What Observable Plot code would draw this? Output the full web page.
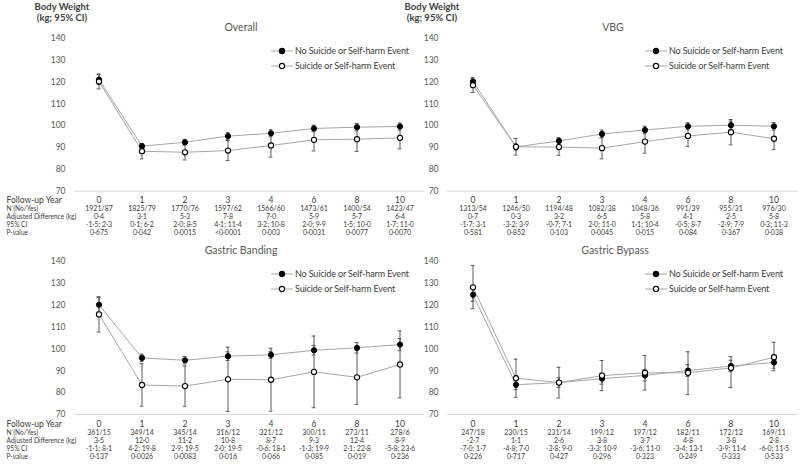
<!DOCTYPE html>
<html><head><meta charset="utf-8">
<script src="https://cdn.jsdelivr.net/npm/d3@7"></script>
<script src="https://cdn.jsdelivr.net/npm/@observablehq/plot@0.6"></script>
<style>
html,body{margin:0;padding:0;background:#fff;}
#root{position:relative;width:800px;height:469px;overflow:hidden;font-family:Lato,"Open Sans",sans-serif;}
.abs{position:absolute;white-space:nowrap;}
.title{font-size:10.5px;color:#595959;transform:translateX(-50%);line-height:12px;}
.ytitle{font-size:9.5px;font-weight:bold;color:#404040;text-align:center;transform:translateX(-50%);line-height:11px;}
.leg{font-size:9px;letter-spacing:-0.15px;color:#404040;line-height:12px;}
</style></head>
<body><div id="root"></div>
<script>
const years = ["0","1","2","3","4","6","8","10"];
const seriesNames = ["No Suicide or Self-harm Event","Suicide or Self-harm Event"];
const rowLabels = ["Follow-up Year","N (No/Yes)","Adjusted Difference (kg)","95% CI","P-value"];
const yTicks = [70,80,90,100,110,120,130,140];

// Overall
const overallNo   = [121.1, 90.6, 92.4, 95.2, 96.5, 98.7, 99.3, 99.6];
const overallNoLo = [118.9, 89.4, 91.1, 93.6, 94.9, 97.2, 97.6, 98.0];
const overallNoHi = [123.4, 91.8, 93.7, 96.8, 98.1,100.2,101.0,101.2];
const overallYes   = [120.2, 88.3, 87.8, 88.6, 90.9, 93.5, 93.8, 94.4];
const overallYesLo = [116.8, 84.8, 84.3, 84.0, 85.6, 88.4, 88.2, 89.4];
const overallYesHi = [123.6, 91.8, 91.3, 93.2, 96.2, 98.6, 99.4, 99.4];
const overallN = ["1921/87","1825/79","1770/76","1597/62","1566/60","1473/61","1400/54","1423/47"];
const overallDiff = ["0·4","3·1","5·3","7·8","7·0","5·9","5·7","6·4"];
const overallCI = ["-1·5; 2·3","0·1; 6·2","2·0; 8·5","4·1; 11·4","3·2; 10·8","2·0; 9·9","1·5; 10·0","1·7; 11·0"];
const overallP = ["0·675","0·042","0·0015","<0·0001","0·003","0·0031","0·0077","0·0070"];

// VBG
const vbgNo   = [120.2, 90.3, 93.0, 96.2, 98.0, 99.7,100.2, 99.7];
const vbgNoLo = [118.7, 88.8, 91.5, 94.4, 96.3, 98.1, 98.3, 98.0];
const vbgNoHi = [121.8, 91.8, 94.5, 98.0, 99.7,101.3,102.1,101.4];
const vbgYes   = [118.5, 90.3, 90.2, 89.7, 92.7, 95.3, 97.0, 94.0];
const vbgYesLo = [115.2, 86.5, 86.4, 84.8, 87.4, 90.5, 91.2, 89.1];
const vbgYesHi = [121.8, 94.1, 94.0, 94.6, 98.0,100.1,102.8, 98.9];
const vbgN = ["1313/54","1246/50","1194/48","1082/38","1048/36","991/39","955/31","976/30"];
const vbgDiff = ["0·7","0·3","3·2","6·5","5·8","4·1","2·5","5·8"];
const vbgCI = ["-1·7; 3·1","-3·2; 3·9","-0·7; 7·1","2·0; 11·0","1·1; 10·4","-0·5; 8·7","-2·9; 7·9","0·3; 11·3"];
const vbgP = ["0·581","0·852","0·103","0·0045","0·015","0·084","0·367","0·038"];

// Gastric Banding
const bandNo   = [120.2, 95.9, 94.8, 96.7, 97.3, 99.4,100.5,102.0];
const bandNoLo = [116.8, 94.2, 93.1, 94.7, 95.7, 97.2, 98.1, 99.2];
const bandNoHi = [123.6, 97.6, 96.5, 98.7, 98.9,101.6,102.9,104.8];
const bandYes   = [115.8, 83.5, 83.0, 86.1, 85.9, 89.5, 87.0, 92.9];
const bandYesLo = [107.7, 73.8, 73.8, 71.4, 71.5, 73.1, 74.6, 77.6];
const bandYesHi = [123.9, 93.2, 92.2,100.8,100.3,105.9, 99.4,108.2];
const bandN = ["361/15","349/14","345/14","316/12","321/12","300/11","273/11","278/6"];
const bandDiff = ["3·5","12·0","11·2","10·8","8·7","9·3","12·4","8·9"];
const bandCI = ["-1·1; 8·1","4·2; 19·8","2·9; 19·5","2·0; 19·5","-0·6; 18·1","-1·3; 19·9","2·1; 22·8","-5·8; 23·6"];
const bandP = ["0·137","0·0026","0·0083","0·016","0·066","0·085","0·019","0·236"];

// Gastric Bypass
const bypassNo   = [124.8, 83.6, 84.6, 86.4, 87.9, 90.1, 92.2, 93.8];
const bypassNoLo = [121.8, 81.4, 82.4, 83.9, 85.3, 87.4, 89.6, 91.2];
const bypassNoHi = [127.8, 85.8, 86.8, 88.9, 90.5, 92.8, 94.8, 96.4];
const bypassYes   = [128.2, 86.6, 84.6, 87.8, 89.1, 89.1, 91.3, 96.2];
const bypassYesLo = [118.4, 77.9, 77.5, 80.9, 81.2, 79.1, 82.3, 90.0];
const bypassYesHi = [138.2, 95.3, 91.6, 94.7, 97.0, 98.7, 96.5,103.0];
const bypassN = ["247/18","230/15","231/14","199/12","197/12","182/11","172/12","169/11"];
const bypassDiff = ["-2·7","1·1","2·6","3·8","3·7","4·8","3·8","2·8"];
const bypassCI = ["-7·0; 1·7","-4·8; 7·0","-3·8; 9·0","-3·3; 10·9","-3·6; 11·0","-3·4; 13·1","-3·9; 11·4","-6·0; 11·5"];
const bypassP = ["0·226","0·717","0·427","0·296","0·323","0·249","0·333","0·533"];

const root = document.getElementById("root");
const FONT = "Lato, 'Open Sans', sans-serif";
const rowDy = [12, 20, 28, 36, 44];
const DOT_R = 2.6;
const SMALL = 7;
const LABEL_SMALL = 6.6;

function panel(cfg) {
  const rows = years.map((y, i) => ({
    year: y, no: cfg.no[i], noLo: cfg.noLo[i], noHi: cfg.noHi[i],
    yes: cfg.yes[i], yesLo: cfg.yesLo[i], yesHi: cfg.yesHi[i],
    n: cfg.n[i], diff: cfg.diff[i], ci: cfg.ci[i], p: cfg.p[i]
  }));
  const capInset = 19.6;
  const eb = "#595959";
  const marks = [
    Plot.ruleY([70], {stroke: "#d9d9d9", strokeWidth: 1}),
    Plot.line(rows, {x: "year", y: "no", stroke: "#a6a6a6", strokeWidth: 1}),
    Plot.line(rows, {x: "year", y: "yes", stroke: "#a6a6a6", strokeWidth: 1}),
    Plot.ruleX(rows, {x: "year", y1: "noLo", y2: "noHi", stroke: eb, strokeWidth: 1}),
    Plot.tickY(rows, {x: "year", y: "noLo", stroke: eb, insetLeft: capInset, insetRight: capInset}),
    Plot.tickY(rows, {x: "year", y: "noHi", stroke: eb, insetLeft: capInset, insetRight: capInset}),
    Plot.ruleX(rows, {x: "year", y1: "yesLo", y2: "yesHi", stroke: eb, strokeWidth: 1}),
    Plot.tickY(rows, {x: "year", y: "yesLo", stroke: eb, insetLeft: capInset, insetRight: capInset}),
    Plot.tickY(rows, {x: "year", y: "yesHi", stroke: eb, insetLeft: capInset, insetRight: capInset}),
    Plot.dot(rows, {x: "year", y: "no", r: DOT_R, fill: "black", stroke: "black", strokeWidth: 1}),
    Plot.dot(rows, {x: "year", y: "yes", r: DOT_R, fill: "white", stroke: "black", strokeWidth: 1.1}),
    Plot.text(rows, {x: "year", text: "year", frameAnchor: "bottom", dy: rowDy[0], fontSize: 8.5, fill: "#404040"}),
    Plot.text(rows, {x: "year", text: "n", frameAnchor: "bottom", dy: rowDy[1], fontSize: SMALL, fill: "#404040"}),
    Plot.text(rows, {x: "year", text: "diff", frameAnchor: "bottom", dy: rowDy[2], fontSize: SMALL, fill: "#404040"}),
    Plot.text(rows, {x: "year", text: "ci", frameAnchor: "bottom", dy: rowDy[3], fontSize: SMALL, fill: "#404040"}),
    Plot.text(rows, {x: "year", text: "p", frameAnchor: "bottom", dy: rowDy[4], fontSize: SMALL, fill: "#404040"})
  ];
  if (cfg.labels) {
    rowLabels.forEach((lab, i) => {
      marks.push(Plot.text([lab], {text: d => d, frameAnchor: "bottom-left", dx: 6 - cfg.marginLeft, dy: rowDy[i],
        textAnchor: "start", fontSize: i === 0 ? 8.5 : LABEL_SMALL, fill: "#404040"}));
    });
  }
  const chart = Plot.plot({
    width: 430, height: 240,
    marginLeft: cfg.marginLeft, marginRight: cfg.marginRight,
    marginTop: cfg.marginTop, marginBottom: cfg.marginBottom,
    style: {fontFamily: FONT, fontSize: "8.5px", color: "#595959", background: "transparent", overflow: "visible"},
    x: {domain: years, padding: 0, axis: null},
    y: {domain: [70, 140], ticks: yTicks, tickSize: 0, tickPadding: 9, label: null},
    marks
  });
  const wrap = document.createElement("div");
  wrap.className = "abs";
  wrap.style.left = cfg.left + "px";
  wrap.style.top = cfg.top + "px";
  wrap.appendChild(chart);
  root.appendChild(wrap);

  const t = document.createElement("div");
  t.className = "abs title";
  t.style.left = cfg.titleX + "px"; t.style.top = (cfg.titleY - 6) + "px";
  t.textContent = cfg.title;
  root.appendChild(t);

  seriesNames.forEach((name, i) => {
    const y = cfg.legY + i * 15;
    const s = document.createElementNS("http://www.w3.org/2000/svg", "svg");
    s.setAttribute("width", "24"); s.setAttribute("height", "10");
    s.setAttribute("viewBox", "0 0 24 10");
    s.style.position = "absolute"; s.style.left = (cfg.legX - 12) + "px"; s.style.top = (y - 5) + "px";
    s.innerHTML = `<line x1="1" x2="23" y1="5" y2="5" stroke="#a6a6a6" stroke-width="1"/>` +
      `<circle cx="12" cy="5" r="${DOT_R}" fill="${i === 0 ? "black" : "white"}" stroke="black" stroke-width="1.1"/>`;
    root.appendChild(s);
    const d = document.createElement("div");
    d.className = "abs leg";
    d.style.left = (cfg.legX + 13) + "px"; d.style.top = (y - 6) + "px";
    d.textContent = name;
    root.appendChild(d);
  });

  if (cfg.ytitle) {
    const yt = document.createElement("div");
    yt.className = "abs ytitle";
    yt.style.left = cfg.ytitleX + "px"; yt.style.top = "1px";
    yt.innerHTML = "Body Weight<br>(kg; 95% CI)";
    root.appendChild(yt);
  }
}

panel({no: overallNo, noLo: overallNoLo, noHi: overallNoHi, yes: overallYes, yesLo: overallYesLo, yesHi: overallYesHi,
  n: overallN, diff: overallDiff, ci: overallCI, p: overallP, labels: true,
  left: 0, top: 0, marginLeft: 74, marginRight: 6, marginTop: 37.7, marginBottom: 49.3,
  title: "Overall", titleX: 241, titleY: 27, legX: 282, legY: 51, ytitle: true, ytitleX: 62});
panel({no: vbgNo, noLo: vbgNoLo, noHi: vbgNoHi, yes: vbgYes, yesLo: vbgYesLo, yesHi: vbgYesHi,
  n: vbgN, diff: vbgDiff, ci: vbgCI, p: vbgP, labels: false,
  left: 370, top: 0, marginLeft: 77, marginRight: 2, marginTop: 37.7, marginBottom: 49.3,
  title: "VBG", titleX: 613, titleY: 27, legX: 656, legY: 51, ytitle: true, ytitleX: 432});
panel({no: bandNo, noLo: bandNoLo, noHi: bandNoHi, yes: bandYes, yesLo: bandYesLo, yesHi: bandYesHi,
  n: bandN, diff: bandDiff, ci: bandCI, p: bandP, labels: true,
  left: 0, top: 225, marginLeft: 74, marginRight: 6, marginTop: 36, marginBottom: 51,
  title: "Gastric Banding", titleX: 241, titleY: 250, legX: 282, legY: 274, ytitle: false});
panel({no: bypassNo, noLo: bypassNoLo, noHi: bypassNoHi, yes: bypassYes, yesLo: bypassYesLo, yesHi: bypassYesHi,
  n: bypassN, diff: bypassDiff, ci: bypassCI, p: bypassP, labels: false,
  left: 370, top: 225, marginLeft: 77, marginRight: 2, marginTop: 36, marginBottom: 51,
  title: "Gastric Bypass", titleX: 615, titleY: 250, legX: 656, legY: 274, ytitle: false});
</script></body></html>
